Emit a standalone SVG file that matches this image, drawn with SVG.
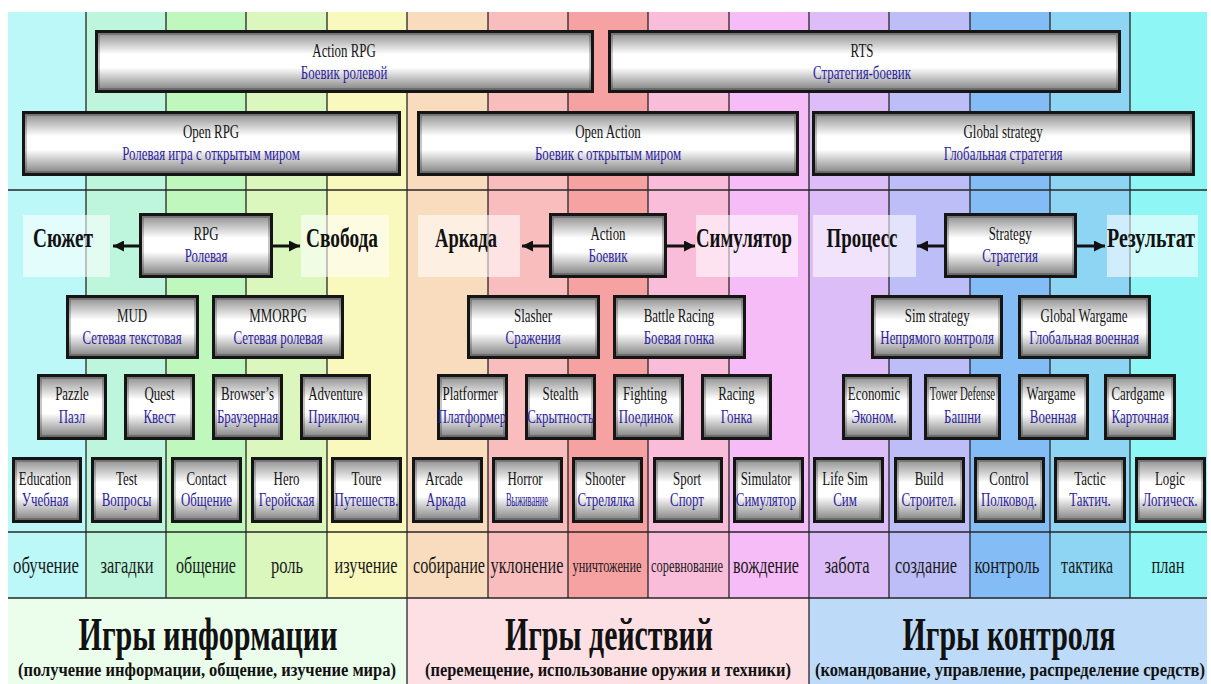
<svg xmlns="http://www.w3.org/2000/svg" width="1211" height="684" viewBox="0 0 1211 684">
<defs>
<linearGradient id="gv" x1="0" y1="0" x2="0" y2="1">
<stop offset="0" stop-color="#8a8a8a"/>
<stop offset="0.38" stop-color="#ffffff"/>
<stop offset="0.6" stop-color="#ffffff"/>
<stop offset="1" stop-color="#7c7c7c"/>
</linearGradient>
<marker id="ah" viewBox="0 0 10 10" markerUnits="userSpaceOnUse" markerWidth="12" markerHeight="11" refX="10" refY="5" orient="auto">
<path d="M0,0 L10,5 L0,10 z" fill="#111"/>
</marker>
</defs>
<style>
.bx{fill:url(#gv);stroke:#151515;stroke-width:3}
.bi{fill:none;stroke:#000;stroke-opacity:0.22;stroke-width:2}
.t1,.t2{font-family:"Liberation Serif",serif;font-size:19px;text-anchor:middle;transform-box:fill-box;transform-origin:center;transform:scaleX(0.68)}
.t1{fill:#141414}
.t2{fill:#2d1d9e}
.vl{stroke:#262626;stroke-width:1.3}
.hl{stroke:#262626;stroke-width:1.6}
.lb{fill:#ffffff;fill-opacity:0.58}
.big{font-family:"Liberation Serif",serif;font-size:27px;font-weight:bold;fill:#111;text-anchor:middle}
.cl{font-family:"Liberation Serif",serif;font-size:24px;fill:#1a1a1a;text-anchor:middle}
.cs{font-family:"Liberation Serif",serif;font-size:18px;fill:#1a1a1a;text-anchor:middle}
.tt{font-family:"Liberation Serif",serif;font-size:46px;font-weight:bold;fill:#111;text-anchor:middle}
.st{font-family:"Liberation Serif",serif;font-size:18px;font-weight:bold;fill:#111;text-anchor:middle}
.ar{stroke:#111;stroke-width:3;fill:none;marker-end:url(#ah)}
</style>
<rect x="0" y="0" width="1211" height="684" fill="#ffffff"/>
<g id="columns">
<rect x="8" y="12" width="78" height="586" fill="#bdf8f8"/>
<rect x="86" y="12" width="80" height="586" fill="#bdf5dd"/>
<rect x="166" y="12" width="80" height="586" fill="#bff7bd"/>
<rect x="246" y="12" width="81" height="586" fill="#dcf7bd"/>
<rect x="327" y="12" width="80" height="586" fill="#f9f8bd"/>
<rect x="407" y="12" width="81" height="586" fill="#f9dcbd"/>
<rect x="488" y="12" width="80" height="586" fill="#f9bdbd"/>
<rect x="568" y="12" width="80" height="586" fill="#f7a2a2"/>
<rect x="648" y="12" width="81" height="586" fill="#f9bdda"/>
<rect x="729" y="12" width="80" height="586" fill="#f6bcf8"/>
<rect x="809" y="12" width="80" height="586" fill="#ddbdf7"/>
<rect x="889" y="12" width="81" height="586" fill="#bdbdf7"/>
<rect x="970" y="12" width="80" height="586" fill="#84bdf5"/>
<rect x="1050" y="12" width="80" height="586" fill="#8dd5f3"/>
<rect x="1130" y="12" width="77" height="586" fill="#8ff6f6"/>
<rect x="8" y="598" width="399" height="86" fill="#ebfdeb"/>
<rect x="407" y="598" width="402" height="86" fill="#fde0e4"/>
<rect x="809" y="598" width="398" height="86" fill="#bddbf8"/>
<g>
<line class="vl" x1="86" y1="12" x2="86" y2="598"/>
<line class="vl" x1="166" y1="12" x2="166" y2="598"/>
<line class="vl" x1="246" y1="12" x2="246" y2="598"/>
<line class="vl" x1="327" y1="12" x2="327" y2="598"/>
<line class="vl" x1="407" y1="12" x2="407" y2="684"/>
<line class="vl" x1="488" y1="12" x2="488" y2="598"/>
<line class="vl" x1="568" y1="12" x2="568" y2="598"/>
<line class="vl" x1="648" y1="12" x2="648" y2="598"/>
<line class="vl" x1="729" y1="12" x2="729" y2="598"/>
<line class="vl" x1="809" y1="12" x2="809" y2="684"/>
<line class="vl" x1="889" y1="12" x2="889" y2="598"/>
<line class="vl" x1="970" y1="12" x2="970" y2="598"/>
<line class="vl" x1="1050" y1="12" x2="1050" y2="598"/>
<line class="vl" x1="1130" y1="12" x2="1130" y2="598"/>
<line class="hl" x1="8" y1="190" x2="1207" y2="190"/>
<line class="hl" x1="8" y1="532" x2="1207" y2="532"/>
<line class="hl" x1="8" y1="598" x2="1207" y2="598"/>
</g>
</g>
<g id="labels">
<g id="lbl-syuzhet"><rect class="lb" x="23" y="215" width="87" height="62"/><text class="big" x="63" y="247" textLength="60" lengthAdjust="spacingAndGlyphs">Сюжет</text></g>
<g id="lbl-svoboda"><rect class="lb" x="301" y="215" width="88" height="62"/><text class="big" x="342" y="247" textLength="72" lengthAdjust="spacingAndGlyphs">Свобода</text></g>
<g id="lbl-arkada"><rect class="lb" x="418" y="215" width="102" height="62"/><text class="big" x="466" y="247" textLength="62" lengthAdjust="spacingAndGlyphs">Аркада</text></g>
<g id="lbl-simulyator"><rect class="lb" x="696" y="215" width="102" height="62"/><text class="big" x="744" y="247" textLength="96" lengthAdjust="spacingAndGlyphs">Симулятор</text></g>
<g id="lbl-protsess"><rect class="lb" x="813" y="215" width="103" height="62"/><text class="big" x="862" y="247" textLength="71" lengthAdjust="spacingAndGlyphs">Процесс</text></g>
<g id="lbl-rezultat"><rect class="lb" x="1107" y="215" width="91" height="62"/><text class="big" x="1151" y="247" textLength="88" lengthAdjust="spacingAndGlyphs">Результат</text></g>
</g>
<g id="connectors">
<line class="ar" x1="139" y1="246" x2="113" y2="246"/>
<line class="ar" x1="273" y1="246" x2="300" y2="246"/>
<line class="ar" x1="549" y1="246" x2="522" y2="246"/>
<line class="ar" x1="667" y1="246" x2="695" y2="246"/>
<line class="ar" x1="944" y1="246" x2="917" y2="246"/>
<line class="ar" x1="1077" y1="246" x2="1105" y2="246"/>
</g>
<g id="nodes">
<g id="action-rpg"><rect class="bx" x="96.5" y="31.5" width="496" height="60"/><rect class="bi" x="99" y="34" width="491" height="55"/><text class="t1" x="344" y="57">Action RPG</text><text class="t2" x="344" y="79">Боевик ролевой</text></g>
<g id="rts"><rect class="bx" x="609.5" y="31.5" width="510" height="60"/><rect class="bi" x="612" y="34" width="505" height="55"/><text class="t1" x="862" y="57">RTS</text><text class="t2" x="862" y="79">Стратегия-боевик</text></g>
<g id="open-rpg"><rect class="bx" x="23.5" y="112.5" width="376" height="62"/><rect class="bi" x="26" y="115" width="371" height="57"/><text class="t1" x="211" y="138">Open RPG</text><text class="t2" x="211" y="160">Ролевая игра с открытым миром</text></g>
<g id="open-action"><rect class="bx" x="418.5" y="112.5" width="379" height="62"/><rect class="bi" x="421" y="115" width="374" height="57"/><text class="t1" x="608" y="138">Open Action</text><text class="t2" x="608" y="160">Боевик с открытым миром</text></g>
<g id="global-strategy"><rect class="bx" x="813.5" y="112.5" width="380" height="62"/><rect class="bi" x="816" y="115" width="375" height="57"/><text class="t1" x="1003" y="138">Global  strategy</text><text class="t2" x="1003" y="160">Глобальная стратегия</text></g>
<g id="rpg"><rect class="bx" x="140.5" y="214.5" width="131" height="62"/><rect class="bi" x="143" y="217" width="126" height="57"/><text class="t1" x="206" y="240">RPG</text><text class="t2" x="206" y="262">Ролевая</text></g>
<g id="action"><rect class="bx" x="550.5" y="214.5" width="115" height="62"/><rect class="bi" x="553" y="217" width="110" height="57"/><text class="t1" x="608" y="240">Action</text><text class="t2" x="608" y="262">Боевик</text></g>
<g id="strategy"><rect class="bx" x="945.5" y="214.5" width="130" height="62"/><rect class="bi" x="948" y="217" width="125" height="57"/><text class="t1" x="1010" y="240">Strategy</text><text class="t2" x="1010" y="262">Стратегия</text></g>
<g id="mud"><rect class="bx" x="67.5" y="296.5" width="130" height="61"/><rect class="bi" x="70" y="299" width="125" height="56"/><text class="t1" x="132" y="322">MUD</text><text class="t2" x="132" y="344">Сетевая  текстовая</text></g>
<g id="mmorpg"><rect class="bx" x="213.5" y="296.5" width="129" height="61"/><rect class="bi" x="216" y="299" width="124" height="56"/><text class="t1" x="278" y="322">MMORPG</text><text class="t2" x="278" y="344">Сетевая ролевая</text></g>
<g id="slasher"><rect class="bx" x="468.5" y="296.5" width="130" height="61"/><rect class="bi" x="471" y="299" width="125" height="56"/><text class="t1" x="533" y="322">Slasher</text><text class="t2" x="533" y="344">Сражения</text></g>
<g id="battle-racing"><rect class="bx" x="614.5" y="296.5" width="130" height="61"/><rect class="bi" x="617" y="299" width="125" height="56"/><text class="t1" x="679" y="322">Battle Racing</text><text class="t2" x="679" y="344">Боевая гонка</text></g>
<g id="sim-strategy"><rect class="bx" x="872.5" y="296.5" width="129" height="61"/><rect class="bi" x="875" y="299" width="124" height="56"/><text class="t1" x="937" y="322">Sim strategy</text><text class="t2" x="937" y="344">Непрямого контроля</text></g>
<g id="global-wargame"><rect class="bx" x="1019.5" y="296.5" width="130" height="61"/><rect class="bi" x="1022" y="299" width="125" height="56"/><text class="t1" x="1084" y="322">Global Wargame</text><text class="t2" x="1084" y="344">Глобальная военная</text></g>
<g id="pazzle"><rect class="bx" x="38.5" y="375.5" width="67" height="63"/><rect class="bi" x="41" y="378" width="62" height="58"/><text class="t1" x="72" y="400">Pazzle</text><text class="t2" x="72" y="423">Пазл</text></g>
<g id="quest"><rect class="bx" x="125.5" y="375.5" width="68" height="63"/><rect class="bi" x="128" y="378" width="63" height="58"/><text class="t1" x="159.5" y="400">Quest</text><text class="t2" x="159.5" y="423">Квест</text></g>
<g id="browsers"><rect class="bx" x="213.5" y="375.5" width="68" height="63"/><rect class="bi" x="216" y="378" width="63" height="58"/><text class="t1" x="247.5" y="400">Browser’s</text><text class="t2" x="247.5" y="423">Браузерная</text></g>
<g id="adventure"><rect class="bx" x="301.5" y="375.5" width="68" height="63"/><rect class="bi" x="304" y="378" width="63" height="58"/><text class="t1" x="335.5" y="400">Adventure</text><text class="t2" x="335.5" y="423">Приключ.</text></g>
<g id="platformer"><rect class="bx" x="438.5" y="375.5" width="68" height="63"/><rect class="bi" x="441" y="378" width="63" height="58"/><text class="t1" x="470" y="400">Platformer</text><text class="t2" x="472" y="423">Платформер</text></g>
<g id="stealth"><rect class="bx" x="526.5" y="375.5" width="68" height="63"/><rect class="bi" x="529" y="378" width="63" height="58"/><text class="t1" x="560.5" y="400">Stealth</text><text class="t2" x="560.5" y="423">Скрытность</text></g>
<g id="fighting"><rect class="bx" x="614.5" y="375.5" width="68" height="63"/><rect class="bi" x="617" y="378" width="63" height="58"/><text class="t1" x="645" y="400">Fighting</text><text class="t2" x="646" y="423">Поединок</text></g>
<g id="racing"><rect class="bx" x="702.5" y="375.5" width="68" height="63"/><rect class="bi" x="705" y="378" width="63" height="58"/><text class="t1" x="736.5" y="400">Racing</text><text class="t2" x="736.5" y="423">Гонка</text></g>
<g id="economic"><rect class="bx" x="843.5" y="375.5" width="67" height="63"/><rect class="bi" x="846" y="378" width="62" height="58"/><text class="t1" x="874" y="400">Economic</text><text class="t2" x="874" y="423">Эконом.</text></g>
<g id="tower-defense"><rect class="bx" x="925.5" y="375.5" width="74" height="63"/><rect class="bi" x="928" y="378" width="69" height="58"/><text class="t1" x="962.5" y="400" textLength="96" lengthAdjust="spacingAndGlyphs">Tower Defense</text><text class="t2" x="962.5" y="423">Башни</text></g>
<g id="wargame"><rect class="bx" x="1019.5" y="375.5" width="68" height="63"/><rect class="bi" x="1022" y="378" width="63" height="58"/><text class="t1" x="1051" y="400">Wargame</text><text class="t2" x="1053" y="423">Военная</text></g>
<g id="cardgame"><rect class="bx" x="1105.5" y="375.5" width="69" height="63"/><rect class="bi" x="1108" y="378" width="64" height="58"/><text class="t1" x="1138" y="400">Cardgame</text><text class="t2" x="1140" y="423">Карточная</text></g>
<g id="education"><rect class="bx" x="13.5" y="458.5" width="67" height="63"/><rect class="bi" x="16" y="461" width="62" height="58"/><text class="t1" x="45" y="485">Education</text><text class="t2" x="45" y="506">Учебная</text></g>
<g id="test"><rect class="bx" x="92.5" y="458.5" width="68" height="63"/><rect class="bi" x="95" y="461" width="63" height="58"/><text class="t1" x="126.5" y="485">Test</text><text class="t2" x="126.5" y="506">Вопросы</text></g>
<g id="contact"><rect class="bx" x="172.5" y="458.5" width="68" height="63"/><rect class="bi" x="175" y="461" width="63" height="58"/><text class="t1" x="206.5" y="485">Contact</text><text class="t2" x="206.5" y="506">Общение</text></g>
<g id="hero"><rect class="bx" x="252.5" y="458.5" width="68" height="63"/><rect class="bi" x="255" y="461" width="63" height="58"/><text class="t1" x="286.5" y="485">Hero</text><text class="t2" x="286.5" y="506">Геройская</text></g>
<g id="toure"><rect class="bx" x="332.5" y="458.5" width="68" height="63"/><rect class="bi" x="335" y="461" width="63" height="58"/><text class="t1" x="366.5" y="485">Toure</text><text class="t2" x="366.5" y="506">Путешеств.</text></g>
<g id="arcade"><rect class="bx" x="413.5" y="458.5" width="68" height="63"/><rect class="bi" x="416" y="461" width="63" height="58"/><text class="t1" x="444" y="485">Arcade</text><text class="t2" x="446" y="506">Аркада</text></g>
<g id="horror"><rect class="bx" x="493.5" y="458.5" width="68" height="63"/><rect class="bi" x="496" y="461" width="63" height="58"/><text class="t1" x="525" y="485">Horror</text><text class="t2" x="527" y="506" textLength="62" lengthAdjust="spacingAndGlyphs">Выживание</text></g>
<g id="shooter"><rect class="bx" x="573.5" y="458.5" width="68" height="63"/><rect class="bi" x="576" y="461" width="63" height="58"/><text class="t1" x="605" y="485">Shooter</text><text class="t2" x="606" y="506">Стрелялка</text></g>
<g id="sport"><rect class="bx" x="654.5" y="458.5" width="67" height="63"/><rect class="bi" x="657" y="461" width="62" height="58"/><text class="t1" x="687" y="485">Sport</text><text class="t2" x="687" y="506">Спорт</text></g>
<g id="simulator"><rect class="bx" x="734.5" y="458.5" width="68" height="63"/><rect class="bi" x="737" y="461" width="63" height="58"/><text class="t1" x="766" y="485">Simulator</text><text class="t2" x="766" y="506">Симулятор</text></g>
<g id="life-sim"><rect class="bx" x="814.5" y="458.5" width="68" height="63"/><rect class="bi" x="817" y="461" width="63" height="58"/><text class="t1" x="845" y="485">Life Sim</text><text class="t2" x="845" y="506">Сим</text></g>
<g id="build"><rect class="bx" x="895.5" y="458.5" width="68" height="63"/><rect class="bi" x="898" y="461" width="63" height="58"/><text class="t1" x="929" y="485">Build</text><text class="t2" x="929" y="506">Строител.</text></g>
<g id="control"><rect class="bx" x="975.5" y="458.5" width="68" height="63"/><rect class="bi" x="978" y="461" width="63" height="58"/><text class="t1" x="1009" y="485">Control</text><text class="t2" x="1009" y="506">Полковод.</text></g>
<g id="tactic"><rect class="bx" x="1055.5" y="458.5" width="69" height="63"/><rect class="bi" x="1058" y="461" width="64" height="58"/><text class="t1" x="1090" y="485">Tactic</text><text class="t2" x="1090" y="506">Тактич.</text></g>
<g id="logic"><rect class="bx" x="1136.5" y="458.5" width="68" height="63"/><rect class="bi" x="1139" y="461" width="63" height="58"/><text class="t1" x="1170" y="485">Logic</text><text class="t2" x="1170" y="506">Логическ.</text></g>
</g>
<g id="column-labels">
<text class="cl" x="46" y="573" textLength="66" lengthAdjust="spacingAndGlyphs">обучение</text>
<text class="cl" x="127" y="573" textLength="53" lengthAdjust="spacingAndGlyphs">загадки</text>
<text class="cl" x="206" y="573" textLength="60" lengthAdjust="spacingAndGlyphs">общение</text>
<text class="cl" x="287" y="573" textLength="32" lengthAdjust="spacingAndGlyphs">роль</text>
<text class="cl" x="366" y="573" textLength="63" lengthAdjust="spacingAndGlyphs">изучение</text>
<text class="cl" x="449" y="573" textLength="72" lengthAdjust="spacingAndGlyphs">собирание</text>
<text class="cl" x="527" y="573" textLength="73" lengthAdjust="spacingAndGlyphs">уклонение</text>
<text class="cs" x="607" y="572" textLength="69" lengthAdjust="spacingAndGlyphs">уничтожение</text>
<text class="cs" x="687" y="572" textLength="72" lengthAdjust="spacingAndGlyphs">соревнование</text>
<text class="cl" x="766" y="573" textLength="66" lengthAdjust="spacingAndGlyphs">вождение</text>
<text class="cl" x="847" y="573" textLength="45" lengthAdjust="spacingAndGlyphs">забота</text>
<text class="cl" x="926" y="573" textLength="62" lengthAdjust="spacingAndGlyphs">создание</text>
<text class="cl" x="1007" y="573" textLength="65" lengthAdjust="spacingAndGlyphs">контроль</text>
<text class="cl" x="1087" y="573" textLength="52" lengthAdjust="spacingAndGlyphs">тактика</text>
<text class="cl" x="1168" y="573" textLength="33" lengthAdjust="spacingAndGlyphs">план</text>
</g>
<g id="sections">
<text class="tt" x="208" y="650" textLength="259" lengthAdjust="spacingAndGlyphs">Игры информации</text>
<text class="st" x="207" y="676" textLength="378" lengthAdjust="spacingAndGlyphs">(получение информации, общение, изучение мира)</text>
<text class="tt" x="609" y="650" textLength="208" lengthAdjust="spacingAndGlyphs">Игры действий</text>
<text class="st" x="608" y="676" textLength="366" lengthAdjust="spacingAndGlyphs">(перемещение, использование оружия и техники)</text>
<text class="tt" x="1009" y="650" textLength="213" lengthAdjust="spacingAndGlyphs">Игры контроля</text>
<text class="st" x="1010" y="676" textLength="390" lengthAdjust="spacingAndGlyphs">(командование, управление, распределение средств)</text>
</g>
</svg>
